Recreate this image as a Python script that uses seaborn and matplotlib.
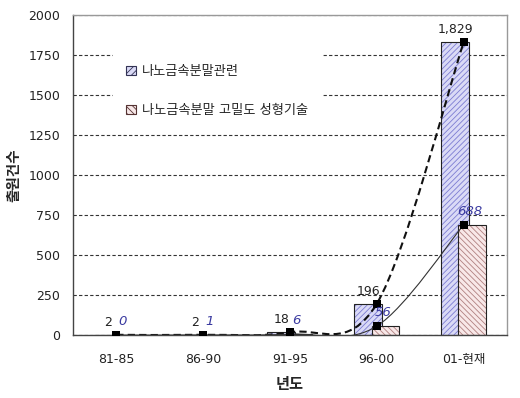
import numpy as np
import pandas as pd
import matplotlib
matplotlib.use('Agg')
import matplotlib.pyplot as plt
from matplotlib.path import Path
from matplotlib.patches import PathPatch, Patch
from matplotlib.ticker import FixedLocator
import seaborn as sns

# 데이터
periods = ['81-85', '86-90', '91-95', '96-00', '01-현재']
powder = [2, 2, 18, 196, 1829]          # 나노금속분말관련
dense = [0, 1, 6, 56, 688]              # 나노금속분말 고밀도 성형기술
powder_labels = ['2', '2', '18', '196', '1,829']
dense_labels = ['0', '1', '6', '56', '688']
series_names = ['나노금속분말관련', '나노금속분말 고밀도 성형기술']

sns.set_style('white')
plt.rcParams['font.family'] = ['DejaVu Sans', 'Noto Sans CJK KR']
plt.rcParams['hatch.linewidth'] = 0.6

blue_face, blue_hatch = '#dadaf6', '#7c7cd2'
pink_face, pink_hatch = '#f8e8e8', '#b08080'

idx = np.arange(len(periods))
df = pd.DataFrame({'pos': idx, 'powder': powder, 'dense': dense})

fig = plt.figure(figsize=(5.2, 3.98), dpi=100)
ax = fig.add_axes([0.140, 0.158, 0.835, 0.804])

# 막대 (파란색: 왼쪽, 분홍색: 오른쪽으로 겹쳐서)
for col, shift, face, hcol, hatch in [('powder', -0.1, blue_face, blue_hatch, '//////'),
                                      ('dense', 0.1, pink_face, pink_hatch, '\\\\\\\\\\\\')]:
    sns.barplot(x=df['pos'] + shift, y=df[col], native_scale=True, width=0.32,
                color=face, edgecolor=hcol, linewidth=0, hatch=hatch,
                saturation=1, errorbar=None, ax=ax)
    sns.barplot(x=df['pos'] + shift, y=df[col], native_scale=True, width=0.32,
                fill=False, color='#222222', linewidth=0.8,
                saturation=1, errorbar=None, ax=ax)


# Excel 스타일 부드러운 곡선
def smooth_path(xs, ys):
    pts = np.column_stack([xs, ys]).astype(float)
    ext = np.vstack([pts[0], pts, pts[-1]])
    verts = [pts[0]]
    codes = [Path.MOVETO]
    for i in range(len(pts) - 1):
        p0, p1, p2, p3 = ext[i], ext[i + 1], ext[i + 2], ext[i + 3]
        verts += [p1 + (p2 - p0) / 6, p2 - (p3 - p1) / 6, p2]
        codes += [Path.CURVE4] * 3
    return Path(verts, codes)


ax.add_patch(PathPatch(smooth_path(idx, powder), fill=False, edgecolor='#111111',
                       linewidth=1.5, linestyle=(0, (3.5, 2)), zorder=4))
ax.add_patch(PathPatch(smooth_path(idx, dense), fill=False, edgecolor='#333333',
                       linewidth=0.8, zorder=4))
sns.scatterplot(x=idx, y=powder, marker='s', color='black', s=32, linewidth=0, zorder=5, ax=ax)
sns.scatterplot(x=idx, y=dense, marker='s', color='black', s=32, linewidth=0, zorder=5, ax=ax)

# 데이터 레이블
for i in idx:
    ax.annotate(powder_labels[i], (i, powder[i]), xytext=(-8, 6), textcoords='offset pixels',
                ha='center', va='bottom', fontsize=9, color='#222222', zorder=6)
    ax.annotate(dense_labels[i], (i, dense[i]), xytext=(6, 7), textcoords='offset pixels',
                ha='center', va='bottom', fontsize=9.5, color='#3a3aa0',
                style='italic', zorder=6)

# 축 설정
ax.set_xlim(-0.5, 4.5)
ax.set_ylim(0, 2000)
ax.set_yticks(range(0, 2001, 250))
ax.set_xticks(idx)
ax.set_xticklabels(periods)
ax.xaxis.set_minor_locator(FixedLocator(idx[:-1] + 0.5))
ax.tick_params(axis='x', which='major', length=0, pad=13, labelsize=9, colors='#222222')
ax.tick_params(axis='x', which='minor', direction='in', length=4, width=0.8, color='#333333')
ax.tick_params(axis='y', length=0, pad=9, labelsize=9, colors='#222222')
ax.yaxis.grid(True, linestyle=(0, (3, 2)), color='#333333', linewidth=0.8)
ax.set_axisbelow(True)
ax.set_xlabel('년도', fontsize=11, fontweight='bold', labelpad=8)
ax.set_ylabel('출원건수', fontsize=10.5, fontweight='bold', labelpad=5)

for side in ['left', 'bottom']:
    ax.spines[side].set_color('#444444')
    ax.spines[side].set_linewidth(1.0)
for side in ['top', 'right']:
    ax.spines[side].set_color('#999999')
    ax.spines[side].set_linewidth(1.0)

# 범례
handles = [Patch(facecolor=blue_face, edgecolor='#333355', hatch='/////', linewidth=0.8),
           Patch(facecolor=pink_face, edgecolor='#553333', hatch='\\\\\\\\\\', linewidth=0.8)]
leg = ax.legend(handles, series_names, loc='center left', bbox_to_anchor=(0.078, 0.762),
                frameon=True, facecolor='white', edgecolor='white', framealpha=1,
                fontsize=9.5, handlelength=0.7, handleheight=0.7, handletextpad=0.5,
                labelspacing=2.0, borderpad=1.0, fancybox=False)
leg.set_zorder(3)

fig.savefig('out.png', dpi=100)
